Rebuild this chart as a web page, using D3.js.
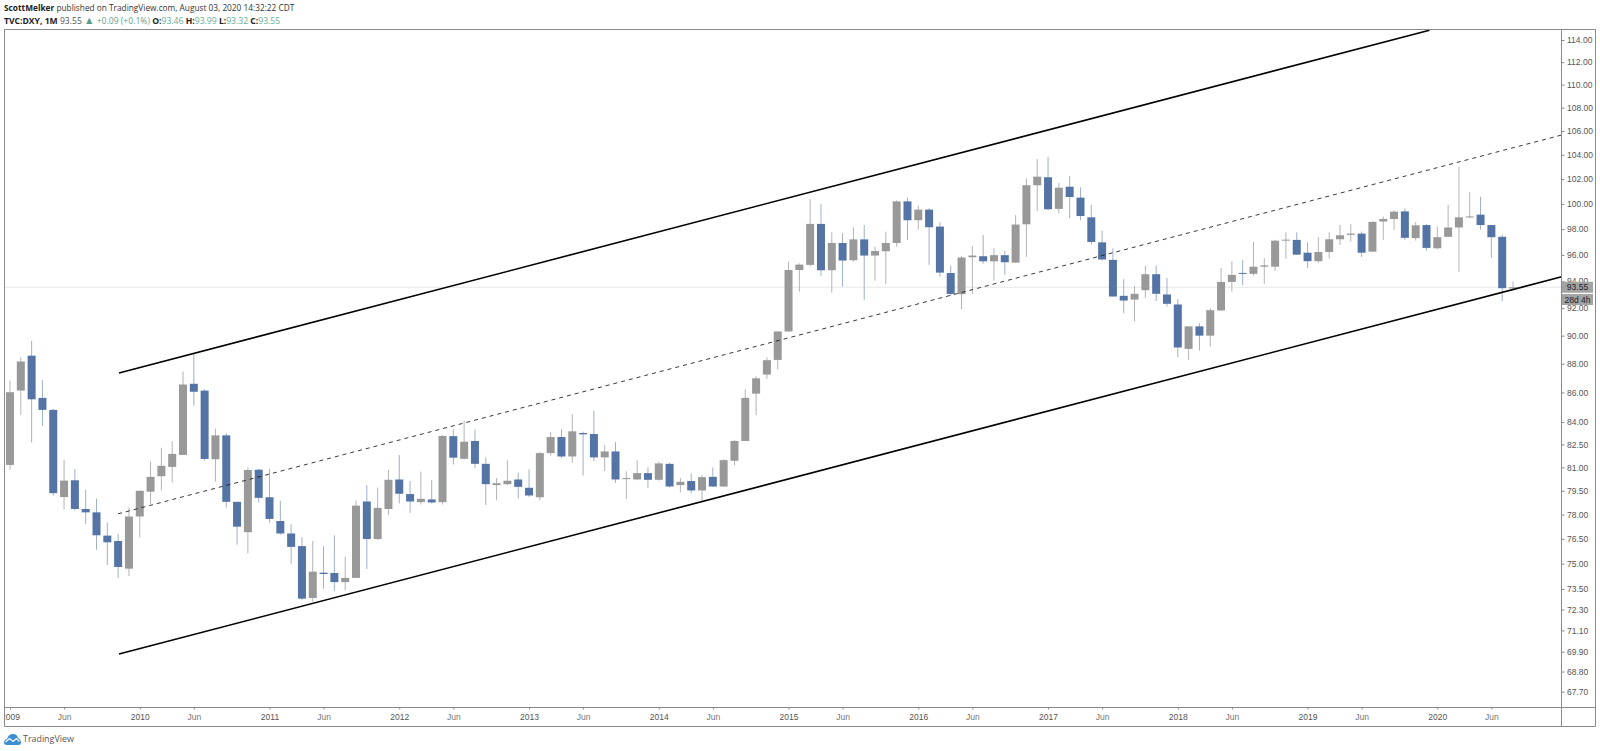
<!DOCTYPE html>
<html>
<head>
<meta charset="utf-8">
<script src="https://cdn.jsdelivr.net/npm/d3@7"></script>
<style>
html,body{margin:0;padding:0;background:#fff;}
svg{display:block;}
text{font-family:"Open Sans",sans-serif;}
</style>
</head>
<body>
<svg id="c" width="1600" height="751"></svg>
<script>
// Monthly candles, Jan 2009 .. Aug 2020
const opens = [81.16,86.13,88.57,85.63,84.81,79.10,80.17,78.35,78.14,76.70,76.37,74.70,77.88,79.44,80.43,81.03,81.81,86.60,86.13,81.53,83.10,78.80,76.91,80.85,
79.09,77.60,76.83,76.06,72.97,74.46,74.44,73.90,74.15,78.82,76.49,78.35,
80.22,79.29,78.78,78.95,78.78,83.05,81.56,82.73,81.23,79.86,79.92,80.22,
79.69,79.09,81.93,82.99,81.71,83.26,83.19,81.65,82.04,80.24,80.22,80.63,
80.20,81.23,79.86,80.12,79.52,80.39,79.77,81.43,82.73,85.92,87.24,88.27,
90.30,94.85,95.24,98.41,94.83,96.92,95.59,97.20,95.95,96.28,96.92,100.20,
98.70,99.54,98.20,94.62,93.03,95.82,95.90,95.51,95.98,95.41,98.38,101.50,
102.15,99.60,101.38,100.50,98.93,96.97,95.62,92.91,92.63,93.33,94.53,93.01,
92.27,89.05,90.67,90.00,91.83,93.95,94.63,94.56,95.10,95.10,97.10,97.16,
96.17,95.52,96.22,97.21,97.55,97.65,96.25,98.60,98.80,99.40,97.30,98.32,
96.51,97.40,98.13,98.93,99.14,98.32,97.40,93.46];
const highs = [86.82,88.45,89.62,86.87,84.87,81.49,80.90,79.58,79.00,77.50,76.80,78.44,79.50,81.38,82.28,82.71,87.45,88.69,86.22,83.55,83.24,78.80,81.00,80.90,
80.90,78.87,77.40,76.60,76.37,76.05,76.72,75.42,78.87,79.85,79.70,80.85,
81.81,80.12,80.73,80.18,83.12,83.52,84.08,83.50,81.65,80.31,81.47,80.66,
80.87,82.00,83.32,83.50,84.53,83.35,84.76,82.46,82.66,80.74,81.47,81.00,
81.37,81.30,80.33,80.61,80.50,81.00,81.54,82.79,86.22,87.12,88.46,90.30,
95.49,95.36,100.37,100.00,97.75,97.68,98.15,98.33,96.64,97.80,100.28,100.50,
99.86,99.65,98.55,95.17,95.93,96.69,97.54,96.51,96.30,99.10,102.05,103.66,
103.85,101.72,102.25,101.33,99.92,97.88,96.51,94.15,93.65,95.17,95.17,94.25,
92.67,90.67,90.90,92.00,95.00,95.50,95.63,97.00,95.75,97.16,97.75,97.75,
96.95,97.37,97.75,98.33,98.38,97.80,98.60,99.00,99.50,99.65,98.57,98.40,
98.20,99.93,103.00,100.94,100.56,98.32,97.58,93.99];
const lows = [80.84,84.47,82.63,83.74,79.20,78.33,78.25,77.42,75.83,74.92,74.15,74.26,76.59,78.67,79.52,80.03,81.81,85.10,81.44,80.09,78.44,76.15,75.63,78.75,
77.50,76.75,75.00,72.85,72.74,73.50,73.38,73.42,74.15,74.68,76.43,77.98,
78.70,78.11,78.63,78.70,78.63,81.19,81.52,80.97,78.60,78.90,79.86,79.01,
79.11,78.90,81.76,81.58,81.30,80.48,81.40,80.76,80.00,78.99,80.18,79.69,
80.14,79.71,79.39,79.33,78.90,79.75,79.75,81.14,82.73,84.45,86.94,87.60,
90.30,93.23,95.11,94.40,93.16,93.60,95.49,92.60,94.05,93.80,96.64,97.15,
97.97,95.24,94.35,92.90,91.92,93.05,95.33,94.05,94.48,95.41,95.85,99.43,
99.49,99.25,98.86,98.70,96.80,95.57,92.86,91.63,91.03,92.77,92.52,92.12,
88.45,88.26,88.93,89.22,91.83,93.23,93.70,94.43,93.80,94.80,95.70,96.02,
95.00,95.40,95.72,96.77,97.03,95.85,96.25,97.16,97.95,97.16,97.11,96.33,
96.43,97.37,94.70,98.86,97.96,95.78,92.52,93.32];
const closes = [86.02,88.16,85.53,84.81,79.35,80.15,78.35,78.14,76.72,76.29,74.80,77.88,79.50,80.39,81.10,81.88,86.55,86.05,81.55,83.10,78.80,77.25,80.83,79.05,
77.73,76.83,76.01,72.93,74.52,74.38,73.90,74.15,78.56,76.49,78.42,80.20,
79.31,78.82,78.99,78.76,83.06,81.63,82.68,81.23,79.92,79.98,80.14,79.75,
79.20,81.93,82.99,81.71,83.37,83.17,81.65,82.04,80.22,80.31,80.63,80.20,
81.26,79.77,80.07,79.52,80.37,79.77,81.47,82.73,85.63,86.98,88.25,90.30,
94.85,95.26,98.41,94.83,96.92,95.57,97.20,95.95,96.30,96.92,100.20,98.70,
99.54,98.15,94.65,93.05,95.80,95.95,95.51,95.98,95.44,98.36,101.50,102.20,
99.57,101.30,100.55,99.03,97.00,95.65,92.86,92.56,93.06,94.53,93.06,92.32,
89.15,90.67,90.00,91.85,93.95,94.48,94.56,95.10,95.20,97.10,97.18,96.02,
95.52,96.22,97.21,97.52,97.65,96.17,98.57,98.80,99.38,97.32,98.30,96.54,
97.37,98.13,98.93,99.00,98.32,97.37,93.48,93.55];

const xTickIndex = [0,5,12,17,24,29,36,41,48,53,60,65,72,77,84,89,96,101,108,113,120,125,132,137];
const xTickLabels = ["2009","Jun","2010","Jun","2011","Jun","2012","Jun","2013","Jun","2014","Jun","2015","Jun","2016","Jun","2017","Jun","2018","Jun","2019","Jun","2020","Jun"];
const yTickValues = [114,112,110,108,106,104,102,100,98,96,94,92,90,88,86,84,82.5,81,79.5,78,76.5,75,73.5,72.3,71.1,69.9,68.8,67.7];

// Channel lines: month index and price at each end
const upperLineIdx = [10.08,131.27], upperLinePrice = [87.35,114.9];
const midLineIdx = [10.0,143.5], midLinePrice = [78.05,105.66];
const lowerLineIdx = [10.08,143.5], lowerLinePrice = [69.77,94.34];
const lastPrice = 93.55;
const countdownLabel = "28d 4h";

const svg = d3.select("#c");
const L=4.5,R=1561.5,RR=1595.5,T=29.5,B=707.5,BB=726.5;
const x = d3.scaleLinear().domain([0,139]).range([10,1513]);
const y = d3.scaleLog().domain([114,67.7]).range([40,691.7]);
const UP="#999999", DOWN="#5474a6", UPW="#b4b4b4", DOWNW="#9fb0c9", FRAME="#8a8a8a", TXT="#555";
const AXF="Liberation Sans, Arial, sans-serif", AXS="8.5px";

const defs=svg.append("defs");
defs.append("clipPath").attr("id","pl").append("rect").attr("x",L).attr("y",T).attr("width",R-L).attr("height",B-T);
defs.append("clipPath").attr("id","xa").append("rect").attr("x",L+0.5).attr("y",B).attr("width",R-L).attr("height",BB-B);

// last price dotted line
svg.append("line").attr("x1",L).attr("x2",R).attr("y1",y(lastPrice)).attr("y2",y(lastPrice))
  .attr("stroke","#cfcfcf").attr("stroke-width",1).attr("stroke-dasharray","1 1");

const data = opens.map((o,i)=>({i,o,h:highs[i],l:lows[i],c:closes[i]}));
const plot = svg.append("g").attr("clip-path","url(#pl)");
const cw = 8;
const candles = plot.selectAll("g.k").data(data).join("g").attr("class","k");
candles.append("line")
  .attr("x1",d=>x(d.i)).attr("x2",d=>x(d.i))
  .attr("y1",d=>y(d.h)).attr("y2",d=>y(d.l))
  .attr("stroke",d=>d.c>=d.o?UPW:DOWNW).attr("stroke-width",1);
candles.append("rect")
  .attr("x",d=>x(d.i)-cw/2).attr("width",cw)
  .attr("y",d=>y(Math.max(d.o,d.c)))
  .attr("height",d=>Math.max(1,Math.abs(y(d.o)-y(d.c))))
  .attr("fill",d=>d.c>=d.o?UP:DOWN);

const ln = d3.line().x(d=>x(d[0])).y(d=>y(d[1]));
plot.append("path").attr("d",ln(d3.zip(upperLineIdx,upperLinePrice))).attr("fill","none").attr("stroke","#000").attr("stroke-width",1.6);
plot.append("path").attr("d",ln(d3.zip(lowerLineIdx,lowerLinePrice))).attr("fill","none").attr("stroke","#000").attr("stroke-width",1.6);
plot.append("path").attr("d",ln(d3.zip(midLineIdx,midLinePrice))).attr("fill","none").attr("stroke","#222").attr("stroke-width",0.9).attr("stroke-dasharray","4 4");

// axes
const yAxis = d3.axisRight(y).tickValues(yTickValues).tickFormat(d3.format(".2f")).tickSize(3).tickPadding(2.5);
const gy = svg.append("g").attr("transform",`translate(${R},0)`).call(yAxis);
gy.select(".domain").remove();
gy.selectAll("line").attr("stroke",FRAME);
gy.selectAll("text").attr("fill",TXT).style("font-family",AXF).style("font-size",AXS);

const xAxis = d3.axisBottom(x).tickValues(xTickIndex).tickFormat((d,i)=>xTickLabels[i]).tickSize(2).tickPadding(4);
const gx = svg.append("g").attr("clip-path","url(#xa)").append("g").attr("transform",`translate(0,${B})`).call(xAxis);
gx.select(".domain").remove();
gx.selectAll("line").attr("stroke",FRAME);
gx.selectAll("text").attr("fill",(d,i)=>xTickLabels[i]==="Jun"?"#777":TXT).style("font-family",AXF).style("font-size",AXS);

// frame
const frame=[[L,T,RR,T],[L,T,L,BB],[R,T,R,BB],[RR,T,RR,BB],[L,B,RR,B],[L,BB,RR,BB]];
svg.selectAll("line.f").data(frame).join("line").attr("class","f")
  .attr("x1",d=>d[0]).attr("y1",d=>d[1]).attr("x2",d=>d[2]).attr("y2",d=>d[3])
  .attr("stroke",FRAME).attr("stroke-width",1);

// price labels
const lab = svg.append("g");
lab.append("rect").attr("x",R+0.5).attr("y",y(lastPrice)-5.5).attr("width",31).attr("height",11).attr("fill","#a3a3a3");
lab.append("text").attr("x",R+16).attr("y",y(lastPrice)+3).attr("text-anchor","middle").attr("fill","#222").style("font-family",AXF).style("font-size",AXS).text(d3.format(".2f")(lastPrice));
lab.append("rect").attr("x",R+0.5).attr("y",y(lastPrice)+6.8).attr("width",31).attr("height",11).attr("fill","#a3a3a3");
lab.append("text").attr("x",R+16).attr("y",y(lastPrice)+15.3).attr("text-anchor","middle").attr("fill","#222").style("font-family",AXF).style("font-size",AXS).text(countdownLabel);

// header
const t1 = svg.append("text").attr("x",4).attr("y",11).style("font-size","8.3px").attr("fill","#333");
t1.append("tspan").attr("font-weight","700").attr("fill","#222").text("ScottMelker");
t1.append("tspan").text(" published on TradingView.com, August 03, 2020 14:32:22 CDT");
const t2 = svg.append("text").attr("x",4).attr("y",23.5).style("font-size","8.6px").attr("fill","#333");
const G="#5fae9a";
[["TVC:DXY, 1M","#222",700,8.6],[" 93.55 ","#555",400,8.6],["▲","#53a08c",400,10.5],[" +0.09 (+0.1%) ","#5f9f90",400,8.6],["O:","#222",700,8.6],["93.46 ",G,400,8.6],["H:","#222",700,8.6],["93.99 ",G,400,8.6],["L:","#222",700,8.6],["93.32 ",G,400,8.6],["C:","#222",700,8.6],["93.55",G,400,8.6]]
 .forEach(p=>t2.append("tspan").attr("fill",p[1]).attr("font-weight",p[2]).style("font-size",p[3]+"px").text(p[0]));

// logo
const logo = svg.append("g").attr("transform","translate(4,733)");
logo.append("path").attr("d","M0 9.5 Q0 6.5 3 6 Q4.5 1 9 1 Q13 1 14 5 Q17 6 17 9.5 Q17 12 14 12 L3 12 Q0 12 0 9.5 Z").attr("fill","#3d8ed0");
logo.append("path").attr("d","M1.5 9 L5.5 5.5 L9 8.5 L12.5 5.5 L15.5 8.5").attr("fill","none").attr("stroke","#fff").attr("stroke-width",1.2);
svg.append("text").attr("x",23).attr("y",741.5).attr("fill","#555").style("font-size","8.9px").text("TradingView");
</script>
</body>
</html>
